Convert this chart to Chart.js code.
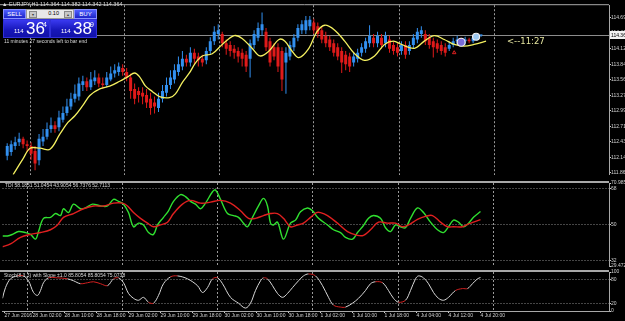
<!DOCTYPE html>
<html>
<head>
<meta charset="utf-8">
<script src="https://cdn.jsdelivr.net/npm/chart.js@4.4.0/dist/chart.umd.min.js"></script>
<style>
  body { margin: 0; background: #000; width: 625px; height: 321px; overflow: hidden; position: relative; font-family: "Liberation Sans", Arial, sans-serif; }
  .pane { position: absolute; left: 0; width: 625px; }
  .pane canvas { display: block; }
  .txt { position: absolute; color: #d8d8d8; font-size: 5.5px; white-space: nowrap; line-height: 1; z-index: 5; }
  .btn { position: absolute; z-index: 5; color: #fff; font-size: 6px; text-align: center; line-height: 9px; background: linear-gradient(#5060ff, #1c24c8); border: 1px solid #8890ff; box-sizing: border-box; }
  .spin { position: absolute; z-index: 5; background: #e8e8e8; border: 1px solid #9a9a9a; box-sizing: border-box; font-size: 5.5px; line-height: 7px; color: #000; text-align: right; padding-right: 14px; }
  .spin i { position: absolute; top: 1px; width: 6px; height: 5px; background: #c8c8c8; border: 1px solid #888; font-style: normal; font-size: 4px; line-height: 5px; text-align: center; color: #333; }
  .quote { position: absolute; z-index: 5; background: linear-gradient(#3a3af0, #1616b8 60%, #1212a8); color: #fff; border: 1px solid #3030d8; box-sizing: border-box; }
  .quote .bf { position: absolute; font-size: 6px; bottom: 3px; }
  .quote .pp { position: absolute; font-size: 17px; bottom: 0px; line-height: 17px; }
  .quote .fr { position: absolute; font-size: 7px; top: 1px; }
  #timer { position: absolute; z-index: 5; color: #e6e6a0; font-size: 8.5px; font-family: "DejaVu Sans", sans-serif; white-space: nowrap; }
</style>
</head>
<body>

<div class="pane" style="top:0;height:180px"><canvas id="cMain" width="625" height="180"></canvas></div>
<div class="pane" style="top:180px;height:89px"><canvas id="cTdi" width="625" height="89"></canvas></div>
<div class="pane" style="top:269px;height:52px"><canvas id="cStoch" width="625" height="52"></canvas></div>

<div class="txt" id="hdr" style="left:2px;top:2px"></div>
<div class="btn" style="left:3px;top:9px;width:23px;height:10px">SELL</div>
<div class="spin" style="left:26px;top:9px;width:48px;height:10px"><i style="left:2px">&#9662;</i><span id="lots"></span><i style="right:1px">&#9652;</i></div>
<div class="btn" style="left:74px;top:9px;width:23px;height:10px">BUY</div>
<div class="quote" id="qSell" style="left:3px;top:19px;width:47px;height:19px"></div>
<div class="quote" id="qBuy" style="left:50px;top:19px;width:47px;height:19px"></div>
<div class="txt" id="left" style="left:4px;top:39px;font-size:5px"></div>
<div id="timer" style="left:507px;top:36px"></div>
<div class="txt" id="tdiLbl" style="left:5px;top:183px;font-size:5px"></div>
<div class="txt" id="stochLbl" style="left:4px;top:273px;font-size:5px"></div>

<script>
var FONT = '"Liberation Sans", Arial, sans-serif';

// quote panel
var symbol = 'EURJPY,H1';
var bid = 114.364;
var ask = 114.389;
var lots = 0.10;
var timeLeft = '11:27';

// H1 candles, bar 0 = 27 Jun 19:00, bar 119 = 4 Jul 20:00
var opens = [
  112.17, 112.24, 112.35, 112.42, 112.48, 112.38, 112.35, 112.26, 112.09, 112.43,
  112.52, 112.66, 112.73, 112.69, 112.83, 112.95, 113.07, 113.21, 113.25, 113.46,
  113.53, 113.42, 113.53, 113.60, 113.49, 113.46, 113.56, 113.67, 113.70, 113.77,
  113.70, 113.60, 113.39, 113.35, 113.32, 113.28, 113.21, 113.14, 113.04, 113.21,
  113.32, 113.46, 113.56, 113.70, 113.80, 113.94, 113.87, 114.05, 113.98, 113.94,
  113.91, 114.08, 114.26, 114.39, 114.39, 114.22, 114.19, 114.12, 114.08, 114.05,
  114.01, 113.94, 114.19, 114.32, 114.46, 114.43, 114.26, 114.15, 114.15, 114.08,
  113.87, 113.98, 114.15, 114.32, 114.46, 114.46, 114.53, 114.60, 114.53, 114.46,
  114.36, 114.29, 114.22, 114.15, 114.08, 114.01, 113.98, 113.87, 113.94, 114.05,
  114.12, 114.22, 114.32, 114.22, 114.32, 114.22, 114.29, 114.19, 114.15, 114.08,
  114.19, 114.08, 114.19, 114.29, 114.39, 114.39, 114.32, 114.26, 114.22, 114.19,
  114.15, 114.12, 114.19, 114.26, 114.29, 114.26, 114.29, 114.26, 114.31, 114.364
];
var highs = [
  112.40, 112.45, 112.52, 112.59, 112.52, 112.45, 112.42, 112.35, 112.57, 112.66,
  112.78, 112.87, 112.80, 112.99, 113.07, 113.21, 113.32, 113.47, 113.60, 113.63,
  113.60, 113.70, 113.73, 113.67, 113.60, 113.70, 113.80, 113.84, 113.87, 113.84,
  113.77, 113.67, 113.49, 113.42, 113.42, 113.39, 113.32, 113.25, 113.32, 113.46,
  113.60, 113.73, 113.84, 113.98, 114.08, 114.01, 114.15, 114.12, 114.05, 114.01,
  114.15, 114.33, 114.53, 114.57, 114.43, 114.29, 114.26, 114.19, 114.15, 114.12,
  114.08, 114.29, 114.46, 114.60, 114.78, 114.50, 114.32, 114.22, 114.22, 114.15,
  114.15, 114.26, 114.39, 114.57, 114.64, 114.72, 114.72, 114.67, 114.60, 114.53,
  114.43, 114.36, 114.29, 114.22, 114.15, 114.08, 114.05, 114.05, 114.12, 114.22,
  114.32, 114.55, 114.39, 114.43, 114.39, 114.43, 114.36, 114.26, 114.22, 114.26,
  114.26, 114.26, 114.39, 114.50, 114.53, 114.46, 114.39, 114.32, 114.29, 114.26,
  114.22, 114.26, 114.32, 114.36, 114.32, 114.34, 114.32, 114.36, 114.38, 114.382
];
var lows = [
  112.09, 112.17, 112.28, 112.35, 112.31, 112.24, 112.10, 111.91, 112.00, 112.35,
  112.47, 112.59, 112.59, 112.62, 112.78, 112.90, 113.01, 113.14, 113.18, 113.35,
  113.35, 113.37, 113.46, 113.42, 113.39, 113.42, 113.53, 113.60, 113.63, 113.63,
  113.53, 113.21, 113.11, 113.14, 113.11, 113.04, 112.92, 112.94, 112.97, 113.14,
  113.25, 113.39, 113.49, 113.63, 113.73, 113.80, 113.80, 113.84, 113.80, 113.80,
  113.84, 114.01, 114.19, 114.29, 114.15, 114.01, 113.98, 113.94, 113.87, 113.80,
  113.70, 113.60, 114.12, 114.26, 114.36, 114.08, 113.80, 113.91, 113.70, 113.35,
  113.30, 113.91, 114.08, 114.26, 114.39, 114.39, 114.46, 114.39, 114.32, 114.22,
  114.15, 114.08, 113.98, 113.91, 113.68, 113.73, 113.70, 113.80, 113.87, 113.98,
  114.05, 114.15, 114.15, 114.15, 114.12, 114.15, 114.05, 114.01, 113.98, 114.01,
  113.94, 114.01, 114.12, 114.22, 114.32, 114.19, 114.12, 113.96, 114.05, 114.01,
  113.98, 114.08, 114.15, 114.19, 114.19, 114.20, 114.22, 114.22, 114.27, 114.342
];
var closes = [
  112.35, 112.38, 112.42, 112.48, 112.38, 112.35, 112.21, 112.03, 112.48, 112.52,
  112.66, 112.73, 112.66, 112.87, 112.95, 113.07, 113.21, 113.30, 113.49, 113.53,
  113.42, 113.56, 113.60, 113.49, 113.46, 113.60, 113.67, 113.73, 113.80, 113.70,
  113.60, 113.35, 113.21, 113.28, 113.25, 113.14, 113.04, 113.07, 113.21, 113.35,
  113.46, 113.60, 113.73, 113.84, 113.94, 113.87, 114.05, 113.94, 113.91, 113.87,
  114.08, 114.26, 114.43, 114.46, 114.22, 114.12, 114.08, 114.05, 113.98, 113.94,
  113.80, 114.22, 114.39, 114.50, 114.57, 114.15, 113.87, 113.98, 113.80, 113.56,
  114.05, 114.19, 114.32, 114.50, 114.57, 114.64, 114.65, 114.46, 114.39, 114.29,
  114.22, 114.15, 114.05, 113.98, 113.87, 113.84, 113.80, 113.98, 114.05, 114.15,
  114.26, 114.36, 114.22, 114.36, 114.19, 114.36, 114.12, 114.08, 114.05, 114.19,
  114.01, 114.19, 114.32, 114.43, 114.46, 114.26, 114.19, 114.15, 114.12, 114.08,
  114.05, 114.19, 114.26, 114.29, 114.26, 114.29, 114.26, 114.32, 114.34, 114.364
];

// yellow moving average (bar position, price)
var maBars = [1.5, 4, 5.75, 8.25, 10.75, 13.25, 15.25, 17, 19, 20.75, 23.25, 25.75, 28.25, 30.25, 32, 33.25, 34.75, 36.5, 38.25, 40.75,
  42.25, 44, 45.75, 47.25, 49, 51.5, 54, 57, 59, 61.5, 63.5, 65.75, 68.25, 69.75, 71.5, 73.25, 75.75, 77.75, 79.75, 82.25,
  84.75, 87.25, 89.75, 92.25, 94.75, 97, 99, 102.25, 104.75, 107.25, 109.75, 112.25, 114.75, 117.25, 120.25];
var maValues = [111.83, 112.12, 112.31, 112.31, 112.29, 112.57, 112.78, 112.90, 113.09, 113.27, 113.39, 113.44, 113.53, 113.61, 113.68, 113.61, 113.44, 113.34, 113.25, 113.23,
  113.30, 113.51, 113.68, 113.86, 113.99, 114.03, 114.20, 114.36, 114.31, 114.13, 113.99, 114.08, 114.29, 114.26, 114.08, 113.96, 114.13, 114.43, 114.55, 114.46,
  114.26, 114.03, 113.91, 113.99, 114.20, 114.26, 114.20, 114.13, 114.26, 114.36, 114.29, 114.20, 114.17, 114.20, 114.26];

// trade objects near the last bars
var orderBars = [114, 117.75];
var orderPrices = [114.24, 114.34];
var arrowBars = [112.25];
var arrowPrices = [114.05];

// TDI price line (green) and signal line (red)
var greenBars = [-0.5, 0.75, 2, 3.5, 5.25, 6.5, 7.75, 8.5, 9.75, 11.5, 12.75, 14, 14.75, 16, 17.25, 19, 20.25, 22, 24, 25.75,
  27.25, 28.5, 29.75, 31, 32.25, 33.5, 34.75, 36, 37.25, 38.25, 39.75, 41, 42.25, 44, 45.25, 46.5, 47.75, 49, 50.25, 52,
  52.75, 54, 55.75, 57.25, 58.5, 59.75, 60.75, 62, 63.5, 64.75, 65.75, 66.5, 67.25, 68.25, 69.75, 71.5, 72.75, 74, 75.75, 77,
  78.5, 80.75, 82.25, 84, 85.25, 87, 88.25, 89.5, 91, 92.25, 94, 95.25, 96.5, 97.75, 99, 100.25, 101.5, 103.25, 104.75, 106.5,
  108.25, 109.75, 111, 112.25, 113.5, 114.75, 116, 117.25, 119];
var greenValues = [44.5, 44.5, 45.3, 46.7, 46.2, 45.3, 42.9, 46.7, 53.3, 53.8, 55.7, 54.7, 58.1, 56.2, 60.4, 58.1, 58.5, 60.4, 59.5, 59.5,
  62.8, 61.8, 60.4, 56.2, 49.1, 50.9, 50.0, 46.2, 45.3, 50.0, 53.8, 57.1, 61.8, 65.2, 64.2, 61.8, 60.4, 58.1, 60.9, 66.6,
  67.5, 62.8, 55.7, 54.7, 53.8, 50.9, 49.1, 53.8, 59.5, 63.3, 59.5, 50.9, 50.0, 51.4, 42.9, 50.9, 52.4, 56.6, 58.5, 57.1,
  53.3, 50.0, 47.6, 46.2, 43.8, 42.9, 46.2, 49.1, 53.3, 54.7, 53.3, 48.6, 46.7, 50.0, 49.1, 48.6, 53.3, 58.5, 56.2, 51.4,
  47.6, 46.2, 49.1, 52.4, 51.4, 49.1, 50.9, 53.8, 56.7];
var redBars = [-0.5, 1.5, 4, 6.5, 9, 11.5, 13.25, 14.75, 17.25, 19.75, 22.25, 24.75, 27.25, 29.5, 30.75, 32.25, 34, 35.75, 37.25, 39,
  40.75, 42.25, 44.5, 46.5, 49, 51.5, 54, 56.5, 59, 61, 62.75, 64.75, 66.5, 68.25, 69.75, 71.5, 73.25, 74.75, 76.5, 78,
  79, 80.75, 83.25, 85.75, 88.25, 89.75, 91.5, 93.5, 95.75, 97.75, 99.5, 101, 103.25, 105.25, 107, 109, 110.75, 112.25, 114.5, 116,
  117.25, 119];
var redValues = [39.1, 40.5, 43.8, 45.3, 46.2, 47.6, 50.0, 53.8, 55.7, 58.1, 59.5, 59.5, 60.9, 60.9, 59.5, 56.2, 53.3, 50.9, 49.1, 50.0,
  51.4, 55.7, 60.4, 62.3, 60.9, 61.4, 62.3, 60.9, 57.1, 53.3, 53.3, 54.7, 55.7, 55.7, 53.3, 49.1, 50.0, 50.9, 53.8, 56.2,
  56.2, 54.7, 50.9, 46.7, 44.8, 44.8, 47.6, 51.4, 50.9, 50.9, 49.1, 50.0, 52.8, 54.3, 54.7, 51.4, 49.1, 49.1, 49.1, 50.5,
  51.4, 52.7];
var tdiBuffers = [58.1851, 51.0454, 43.9054, 56.7376, 52.7113];

// Stochastic(8,3,3)
var stochBars = [-0.5, 0.25, 1.5, 3.25, 4.75, 6, 7.25, 8.25, 9, 9.75, 11, 13.25, 15.75, 17.25, 19, 20.75, 22.25, 24, 25.75, 27.25,
  28.5, 29.75, 31, 32.25, 33.5, 34.75, 36, 37.25, 38.5, 39.75, 41.5, 43.25, 45.75, 48.25, 49.5, 50.75, 52, 53.25, 54.5, 56.5,
  58.5, 60.25, 61.5, 62.75, 64, 64.75, 65.75, 67, 68.25, 69.5, 70.75, 72, 73.5, 74.75, 76, 77.75, 79.5, 81, 82.25, 84,
  85.25, 87, 88.5, 90.25, 91.5, 92.75, 94.5, 96, 97.25, 98.5, 100.25, 101.5, 102.75, 103.5, 104.75, 106, 107.25, 108.5, 109.75, 111,
  112.75, 114.5, 115.75, 117, 118.25, 119];
var stochValues = [32.5, 60, 82.5, 90, 90, 77.5, 47.5, 40, 52.5, 72.5, 85, 85, 82.5, 77.5, 70, 72.5, 75, 70, 65, 82.5,
  85, 72.5, 45, 32.5, 27.5, 35, 22.5, 20, 40, 70, 87.5, 90, 82.5, 65, 47.5, 60, 82.5, 85, 70, 35,
  20, 7.5, 20, 52.5, 77.5, 85, 82.5, 65, 45, 35, 45, 60, 77.5, 90, 95, 90, 65, 35, 15, 10,
  10, 20, 32.5, 52.5, 70, 75, 72.5, 52.5, 32.5, 22.5, 27.5, 52.5, 82.5, 90, 85, 70, 47.5, 32.5, 27.5, 35,
  52.5, 57.5, 57.5, 70, 82.5, 85.8];
var stochBuffers = [85.8054, 85.8054, 75.0738];

// axes
var timeLabels = ['27 Jun 2016', '28 Jun 02:00', '28 Jun 10:00', '28 Jun 18:00', '29 Jun 02:00', '29 Jun 10:00', '29 Jun 18:00', '30 Jun 02:00',
  '30 Jun 10:00', '30 Jun 18:00', '1 Jul 02:00', '1 Jul 10:00', '1 Jul 18:00', '4 Jul 04:00', '4 Jul 12:00', '4 Jul 20:00'];
var labelBars = [0, 7, 15, 23, 31, 39, 47, 55, 63, 71, 79, 87, 95, 103, 111, 119];
var gridBars = [5.75, 29.5, 53.25, 77, 98.5, 122.25];
var priceTicks = [114.69, 114.41, 114.12, 113.84, 113.56, 113.27, 112.99, 112.71, 112.43, 112.14, 111.86];
var tdiTicks = [70.985, 68, 50, 32, 29.472];
var tdiLevels = [68, 50, 32];
var stochTicks = [100, 80, 20, 0];
var stochLevels = [80, 20];

var X_MIN = -0.5, X_MAX = 151.125;
var AXIS_W = 16;

// ---------- texts ----------
var last = opens.length - 1;
document.getElementById('hdr').textContent = '\u25B2 ' + symbol + '  ' + opens[last].toFixed(3) + ' ' + highs[last].toFixed(3) + ' ' + lows[last].toFixed(3) + ' ' + closes[last].toFixed(3);
document.getElementById('lots').textContent = lots.toFixed(2);
var parts = timeLeft.split(':');
document.getElementById('left').textContent = Number(parts[0]) + ' minutes ' + Number(parts[1]) + ' seconds left to bar end';
document.getElementById('timer').textContent = '<--' + timeLeft;
document.getElementById('tdiLbl').textContent = 'TDI ' + tdiBuffers.map(function (v) { return v.toFixed(4); }).join(' ');
document.getElementById('stochLbl').textContent = 'Stoch(8,3,3) with Slope \u00B11.0 ' + stochBuffers.map(function (v) { return v.toFixed(4); }).join(' ');

function fillQuote(el, price) {
  var s = price.toFixed(3);
  el.innerHTML = '<span class="bf" style="left:10px">' + s.slice(0, 3) + '</span>' +
    '<span class="pp" style="left:22px">' + s.slice(4, 6) + '</span>' +
    '<span class="fr" style="left:39px">' + s.slice(6) + '</span>';
}
fillQuote(document.getElementById('qSell'), bid);
fillQuote(document.getElementById('qBuy'), ask);

// ---------- plugins ----------
var paneTop = {
  id: 'paneTop',
  afterDraw: function (chart, args, opts) {
    var a = chart.chartArea, ctx = chart.ctx, w = opts.width || 1;
    ctx.save();
    ctx.strokeStyle = '#a8a8a8';
    ctx.lineWidth = w;
    ctx.beginPath();
    ctx.moveTo(0, a.top - w / 2);
    ctx.lineTo(a.right, a.top - w / 2);
    ctx.stroke();
    ctx.restore();
  }
};

var bidLine = {
  id: 'bidLine',
  beforeDatasetsDraw: function (chart) {
    var a = chart.chartArea, ctx = chart.ctx;
    var y = Math.round(chart.scales.y.getPixelForValue(bid)) + 0.5;
    ctx.save();
    ctx.strokeStyle = '#8c8c8c';
    ctx.lineWidth = 1;
    ctx.beginPath();
    ctx.moveTo(a.left, y);
    ctx.lineTo(a.right, y);
    ctx.stroke();
    ctx.restore();
  },
  afterDraw: function (chart) {
    var a = chart.chartArea, ctx = chart.ctx;
    var y = Math.round(chart.scales.y.getPixelForValue(bid));
    ctx.save();
    ctx.fillStyle = '#f2f2f2';
    ctx.fillRect(a.right + 1, y - 4, AXIS_W, 8);
    ctx.fillStyle = '#000';
    ctx.font = '5px ' + FONT;
    ctx.textBaseline = 'middle';
    ctx.fillText(bid.toFixed(3), a.right + 2, y + 0.5);
    ctx.restore();
  }
};

// ---------- shared options ----------
function gridAxis() {
  return {
    type: 'linear', position: 'bottom', min: X_MIN, max: X_MAX, offset: false,
    afterBuildTicks: function (s) { s.ticks = gridBars.map(function (v) { return { value: v }; }); },
    ticks: { display: false },
    grid: { offset: false, color: '#9a9a9a', lineWidth: 1, drawTicks: false },
    border: { display: false, dash: [2, 2] }
  };
}

function rightAxis(min, max, tickValues, fmt, levels) {
  return {
    type: 'linear', position: 'right', min: min, max: max,
    afterBuildTicks: function (s) { s.ticks = tickValues.map(function (v) { return { value: v }; }); },
    afterFit: function (s) { s.width = AXIS_W; },
    ticks: { autoSkip: false, color: '#d0d0d0', font: { size: 5, family: FONT }, padding: 0, callback: fmt },
    grid: {
      drawOnChartArea: !!levels,
      color: function (c) { return levels && c.tick && levels.indexOf(c.tick.value) >= 0 ? '#8a8a8a' : 'rgba(0,0,0,0)'; },
      tickColor: '#d0d0d0', tickLength: 2, lineWidth: 1
    },
    border: { display: true, color: '#a8a8a8', width: 1, dash: [1, 2] }
  };
}

function baseOptions(padTop, padBottom, scales, topWidth) {
  return {
    responsive: false, animation: false, devicePixelRatio: 1,
    layout: { padding: { left: 2.5, right: 0, top: padTop, bottom: padBottom } },
    plugins: { legend: { display: false }, tooltip: { enabled: false }, paneTop: { width: topWidth } },
    scales: scales
  };
}

function points(xs, ys) {
  return xs.map(function (x, i) { return { x: x, y: ys[i] }; });
}

// ---------- main price pane ----------
var bull = '#3290f0', bear = '#e01a1a';
var barColors = closes.map(function (c, i) { return c >= opens[i] ? bull : bear; });
var bodyData = opens.map(function (o, i) { return { x: i, y: [o, closes[i]] }; });
var wickData = highs.map(function (h, i) { return { x: i, y: [lows[i], h] }; });

new Chart(document.getElementById('cMain'), {
  type: 'bar',
  data: {
    datasets: [
      { type: 'scatter', data: points(orderBars, orderPrices), pointRadius: [4, 3.5], pointBackgroundColor: ['#7a6cd8', '#9cc8f0'], pointBorderColor: '#f0f0f0', pointBorderWidth: 1.2 },
      { type: 'scatter', data: points(arrowBars, arrowPrices), pointStyle: 'triangle', pointRadius: 2, pointBackgroundColor: 'rgba(0,0,0,0)', pointBorderColor: '#e02020', pointBorderWidth: 1 },
      { type: 'line', data: points(maBars, maValues), borderColor: '#f4f060', borderWidth: 1.3, pointRadius: 0, tension: 0.35, fill: false },
      { type: 'bar', data: bodyData, backgroundColor: barColors, barThickness: 3, minBarLength: 1, grouped: false, borderWidth: 0, inflateAmount: 0 },
      { type: 'bar', data: wickData, backgroundColor: barColors, barThickness: 1, grouped: false, borderWidth: 0, inflateAmount: 0 }
    ]
  },
  options: baseOptions(2, 0, {
    x: gridAxis(),
    y: rightAxis(111.825, 114.915, priceTicks, function (v) { return v.toFixed(2); }, null)
  }, 1),
  plugins: [paneTop, bidLine]
});

// ---------- TDI pane ----------
new Chart(document.getElementById('cTdi'), {
  type: 'line',
  data: {
    datasets: [
      { data: points(redBars, redValues), borderColor: '#e02020', borderWidth: 1.4, pointRadius: 0, tension: 0.35 },
      { data: points(greenBars, greenValues), borderColor: '#30e030', borderWidth: 1.4, pointRadius: 0, tension: 0.35 }
    ]
  },
  options: baseOptions(2, 1, {
    x: gridAxis(),
    y: rightAxis(29.472, 70.985, tdiTicks, function (v) { return String(v); }, tdiLevels)
  }, 2),
  plugins: [paneTop]
});

// ---------- Stochastic pane ----------
var labelAxis = {
  type: 'linear', position: 'bottom', min: X_MIN, max: X_MAX, offset: false,
  afterBuildTicks: function (s) { s.ticks = labelBars.map(function (v) { return { value: v }; }); },
  afterFit: function (s) { s.height = 10; },
  ticks: {
    autoSkip: false, maxRotation: 0, align: 'start', padding: 0, color: '#d0d0d0', font: { size: 5, family: FONT },
    callback: function (v, i) { return timeLabels[i]; }
  },
  grid: { offset: false, drawOnChartArea: false, tickColor: '#d0d0d0', tickLength: 2 },
  border: { display: true, color: '#a8a8a8', width: 1 }
};

new Chart(document.getElementById('cStoch'), {
  type: 'line',
  data: {
    datasets: [{
      data: points(stochBars, stochValues), borderColor: '#d8d8d8', borderWidth: 1, pointRadius: 0, tension: 0.35,
      segment: {
        borderColor: function (c) {
          var slope = (c.p1.parsed.y - c.p0.parsed.y) / (c.p1.parsed.x - c.p0.parsed.x);
          return Math.abs(slope) < 3 ? '#d42020' : '#d8d8d8';
        }
      }
    }]
  },
  options: baseOptions(2, 0, {
    x: labelAxis,
    xg: gridAxis(),
    y: rightAxis(0, 100, stochTicks, function (v) { return String(v); }, stochLevels)
  }, 2),
  plugins: [paneTop]
});
</script>
</body>
</html>
